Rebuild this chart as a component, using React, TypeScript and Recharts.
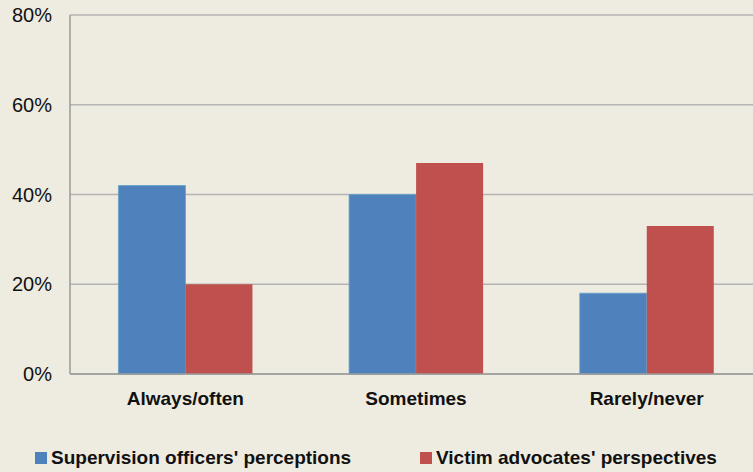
import { BarChart, Bar, XAxis, YAxis, CartesianGrid, Legend } from "recharts";

const categories = ["Always/often", "Sometimes", "Rarely/never"];
const supervisionOfficers = [42, 40, 18];
const victimAdvocates = [20, 47, 33];
const yTicks = [0, 20, 40, 60, 80];

const BLUE = "#4F81BD";
const RED = "#C0504D";
const BG = "#EEEBE0";
const FONT = "'Liberation Sans', Arial, sans-serif";

const data = categories.map((name, i) => ({
  name,
  officers: supervisionOfficers[i],
  advocates: victimAdvocates[i],
}));

const legendItems = [
  { label: "Supervision officers' perceptions", color: BLUE, left: 35 },
  { label: "Victim advocates' perspectives", color: RED, left: 420 },
];

function LegendContent() {
  return (
    <div style={{ position: "relative", height: 40, width: 753 }}>
      {legendItems.map((it) => (
        <div
          key={it.label}
          style={{
            position: "absolute",
            left: it.left,
            top: 15,
            display: "flex",
            alignItems: "center",
            fontFamily: FONT,
            fontWeight: "bold",
            fontSize: 19,
            color: "#111",
            whiteSpace: "nowrap",
          }}
        >
          <span
            style={{
              display: "inline-block",
              width: 12,
              height: 12,
              background: it.color,
              marginRight: 4,
            }}
          />
          {it.label}
        </div>
      ))}
    </div>
  );
}

export default function App() {
  return (
    <div
      style={{
        position: "fixed",
        left: 0,
        top: 0,
        width: 753,
        height: 472,
        overflow: "hidden",
        background: BG,
      }}
    >
      <BarChart
        width={770}
        height={472}
        data={data}
        margin={{ top: 15, right: 8, left: 0, bottom: 0 }}
        barCategoryGap="21%"
        barGap={0}
      >
        <CartesianGrid vertical={false} stroke="#B4B4B4" strokeWidth={1.5} />
        <XAxis
          dataKey="name"
          height={58}
          tickLine={false}
          tickSize={0}
          tickMargin={18}
          axisLine={{ stroke: "#9A9A9A", strokeWidth: 1.5 }}
          tick={{ fill: "#111", fontSize: 19, fontWeight: "bold", fontFamily: FONT }}
        />
        <YAxis
          width={70}
          domain={[0, 80]}
          ticks={yTicks}
          tickFormatter={(v: number) => `${v}%`}
          tickLine={false}
          tickSize={0}
          tickMargin={18}
          axisLine={{ stroke: "#9A9A9A", strokeWidth: 1.5 }}
          tick={{ fill: "#111", fontSize: 20, fontFamily: FONT }}
        />
        <Legend verticalAlign="bottom" content={() => <LegendContent />} wrapperStyle={{ left: 0, width: 753 }} />
        <Bar dataKey="officers" name="Supervision officers' perceptions" fill={BLUE} stroke="#5FA3C8" strokeWidth={0.8} isAnimationActive={false} />
        <Bar dataKey="advocates" name="Victim advocates' perspectives" fill={RED} isAnimationActive={false} />
      </BarChart>
    </div>
  );
}
